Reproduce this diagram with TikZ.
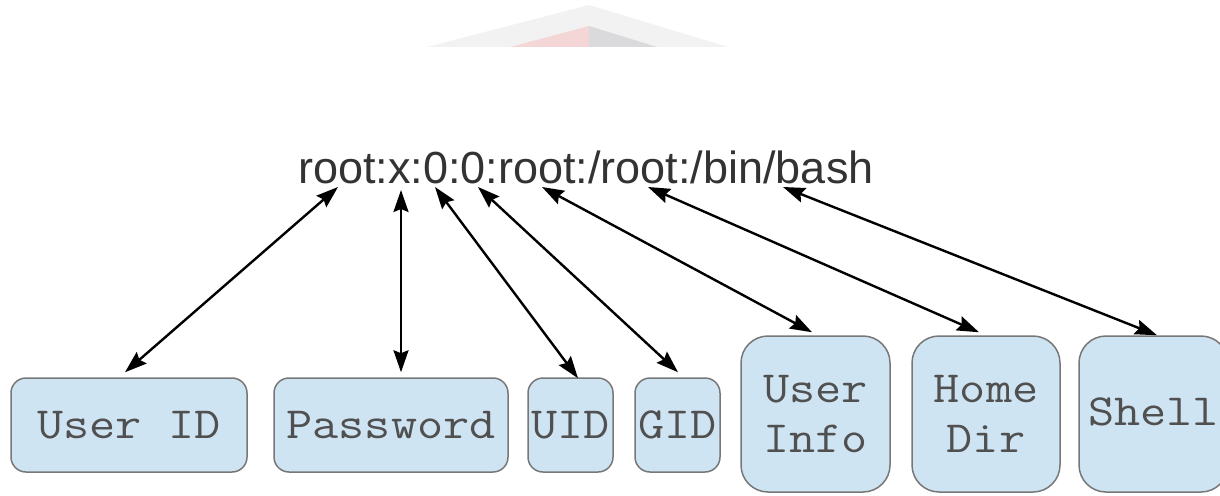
\documentclass[tikz,border=0pt]{standalone}
\usepackage{fontspec}
\setmainfont{Liberation Sans}
\newfontfamily\monofnt[FakeStretch=1.14]{Latin Modern Mono}
\usetikzlibrary{arrows.meta}
\definecolor{boxfill}{HTML}{CFE4F2}
\definecolor{boxline}{HTML}{777777}
\definecolor{toptext}{HTML}{333333}
\definecolor{boxtext}{HTML}{505050}
\definecolor{wmgray}{HTML}{F2F2F2}
\definecolor{wmpink}{HTML}{F5D6D6}
\definecolor{wmdark}{HTML}{DADADC}
\tikzset{
  fieldbox/.style={draw=boxline, line width=1.5pt, fill=boxfill, inner sep=0pt,
    minimum height=94pt, rounded corners=15pt, text=boxtext, align=center,
    font=\monofnt\fontsize{44.5}{50}\selectfont},
  tallbox/.style={fieldbox, minimum height=156pt, rounded corners=27pt},
  link/.style={line width=2.4pt, {Stealth[length=22pt,width=15pt,inset=3pt]}-{Stealth[length=22pt,width=15pt,inset=3pt]}}
}
\begin{document}
\begin{tikzpicture}[x=1pt,y=-1pt]
\useasboundingbox (0,0) rectangle (1220,495);
% faint watermark
\fill[wmgray] (589,5) -- (728,47) -- (427,47) -- cycle;
\fill[wmpink] (589,26) -- (589,47) -- (510,47) -- cycle;
\fill[wmdark] (589,26) -- (657,47) -- (589,47) -- cycle;
% passwd line
\node[anchor=base west, inner sep=0pt, text=toptext,
  font=\fontsize{45}{54}\selectfont] (line) at (298,183) {root:x:0:0:root:/root:/bin/bash};
\coordinate (t1) at (338,187);
\coordinate (t2) at (401,190);
\coordinate (t3) at (435,187);
\coordinate (t4) at (478,187);
\coordinate (t5) at (542,187);
\coordinate (t6) at (648,187);
\coordinate (t7) at (783,187);
% fields
\node[fieldbox, minimum width=236pt] (userid) at (129,425) {User ID};
\node[fieldbox, minimum width=234pt] (passwd) at (391,425) {Password};
\node[fieldbox, minimum width=85pt] (uid) at (570.5,425) {UID};
\node[fieldbox, minimum width=85pt] (gid) at (677.5,425) {GID};
\node[tallbox, minimum width=149pt] (uinfo) at (815.5,414) {User\\Info};
\node[tallbox, minimum width=148pt] (home) at (986,414) {Home\\Dir};
\node[tallbox, minimum width=149pt] (shell) at (1153.5,414) {\raisebox{4pt}{Shell}};
% connectors
\draw[link] (t1) -- ([xshift=-4pt,yshift=5pt]userid.north);
\draw[link] (t2) -- ([xshift=10pt,yshift=5pt]passwd.north);
\draw[link] (t3) -- ([xshift=7.5pt,yshift=-1pt]uid.north);
\draw[link] (t4) -- ([xshift=0.5pt,yshift=5pt]gid.north);
\draw[link] (t5) -- ([xshift=-3.5pt,yshift=3pt]uinfo.north);
\draw[link] (t6) -- ([xshift=-7pt,yshift=3pt]home.north);
\draw[link] (t7) -- ([xshift=3.5pt,yshift=0pt]shell.north);
\end{tikzpicture}
\end{document}
